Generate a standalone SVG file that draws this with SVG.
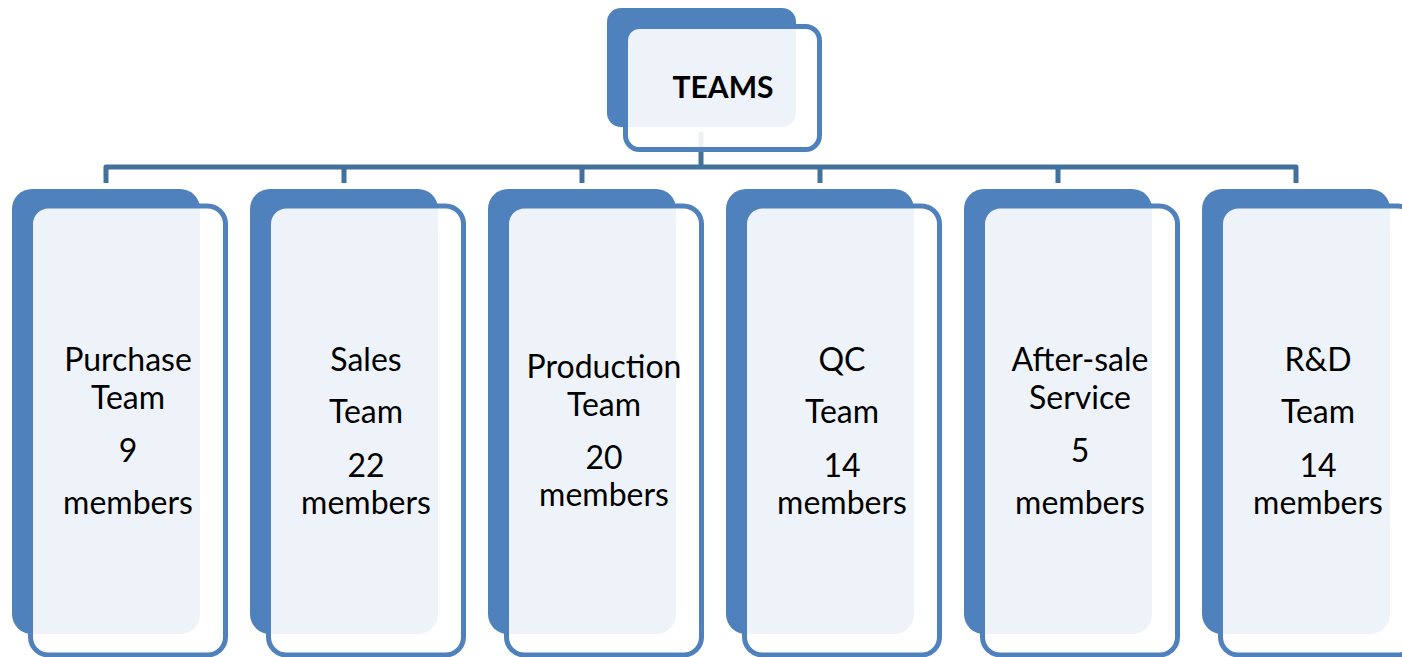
<svg xmlns="http://www.w3.org/2000/svg" width="1402" height="657" viewBox="0 0 1402 657">
<style>
.back{fill:#4F81BD;}
.front{fill:#FFFFFF;fill-opacity:0.9;stroke:#4F81BD;stroke-width:5;}
.conn{fill:none;stroke:#41719C;stroke-width:5;stroke-linejoin:round;}
text{font-family:Lato,"Open Sans","Liberation Sans",sans-serif;font-size:32px;fill:#000;text-anchor:middle;}
.title{font-weight:bold;font-size:30px;}
</style>
<rect width="1402" height="657" fill="#FFFFFF"/>
<g id="connectors">
<path class="conn" d="M701,132 V167"/>
<path class="conn" d="M106,183 V167 H1296 V183"/>
<path class="conn" d="M344,167 V183 M582,167 V183 M820,167 V183 M1058,167 V183"/>
</g>
<g id="teams">
<rect class="back" x="607" y="8" width="189" height="119" rx="14"/>
<rect class="front" x="625.5" y="26.5" width="194" height="123" rx="14"/>
<text class="title" x="723" y="98">TEAMS</text>
</g>
<g id="purchase">
<rect class="back" x="12" y="189" width="188" height="445" rx="20"/>
<rect class="front" x="30.5" y="206" width="195" height="449" rx="18"/>
<text x="128" y="371">Purchase</text>
<text x="128" y="409">Team</text>
<text x="128" y="462">9</text>
<text x="128" y="514">members</text>
</g>
<g id="sales">
<rect class="back" x="250" y="189" width="188" height="445" rx="20"/>
<rect class="front" x="268.5" y="206" width="195" height="449" rx="18"/>
<text x="366" y="371">Sales</text>
<text x="366" y="423">Team</text>
<text x="366" y="477">22</text>
<text x="366" y="514">members</text>
</g>
<g id="production">
<rect class="back" x="488" y="189" width="188" height="445" rx="20"/>
<rect class="front" x="506.5" y="206" width="195" height="449" rx="18"/>
<text x="604" y="378">Production</text>
<text x="604" y="416">Team</text>
<text x="604" y="469">20</text>
<text x="604" y="506">members</text>
</g>
<g id="qc">
<rect class="back" x="726" y="189" width="188" height="445" rx="20"/>
<rect class="front" x="744.5" y="206" width="195" height="449" rx="18"/>
<text x="842" y="371">QC</text>
<text x="842" y="423">Team</text>
<text x="842" y="477">14</text>
<text x="842" y="514">members</text>
</g>
<g id="aftersale">
<rect class="back" x="964" y="189" width="188" height="445" rx="20"/>
<rect class="front" x="982.5" y="206" width="195" height="449" rx="18"/>
<text x="1080" y="371">After-sale</text>
<text x="1080" y="409">Service</text>
<text x="1080" y="462">5</text>
<text x="1080" y="514">members</text>
</g>
<g id="rnd">
<rect class="back" x="1202" y="189" width="188" height="445" rx="20"/>
<rect class="front" x="1220.5" y="206" width="195" height="449" rx="18"/>
<text x="1318" y="371">R&amp;D</text>
<text x="1318" y="423">Team</text>
<text x="1318" y="477">14</text>
<text x="1318" y="514">members</text>
</g>
</svg>
